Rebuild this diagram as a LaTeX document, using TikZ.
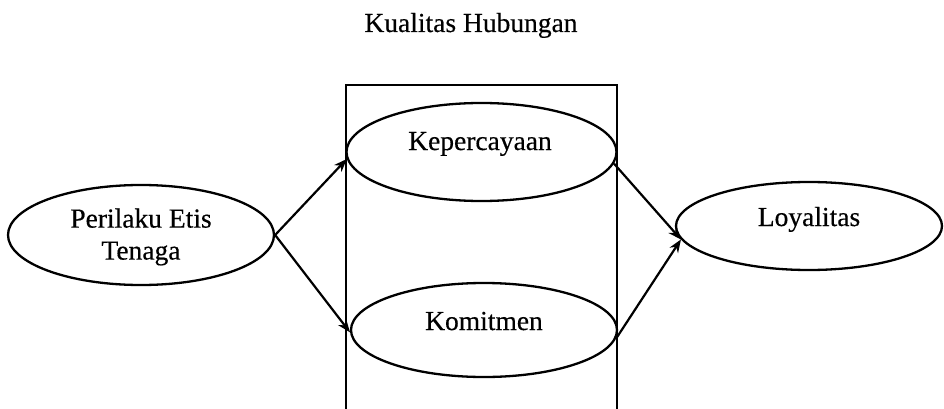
\documentclass[tikz,border=0pt]{standalone}
\usepackage{fontspec}
\setmainfont{Liberation Serif}
\usetikzlibrary{shapes.geometric,arrows.meta}
\begin{document}
\begin{tikzpicture}[x=1pt,y=-1pt,
  oval/.style={draw,ellipse,line width=2.3pt,inner sep=0pt},
  lbl/.style={font=\fontsize{27.5}{32}\selectfont\addfontfeatures{FakeBold=0.4},inner sep=0pt},
  conn/.style={line width=2.2pt,-{Stealth[length=13pt,width=10pt]}},
  frame/.style={line width=2.3pt}]
\useasboundingbox (0,0) rectangle (944,409);
\node[lbl,anchor=base] (title) at (471,32) {Kualitas Hubungan};
\draw[frame] (346,420) -- (346,85) -- (617,85) -- (617,420);
\node[oval,minimum width=266pt,minimum height=100pt] (pe) at (141,235) {};
\node[lbl,align=center] (pet) at (141,237) {Perilaku Etis\\Tenaga};
\node[oval,minimum width=270pt,minimum height=98pt] (kp) at (481.5,152) {};
\node[lbl,anchor=base] (kpt) at (480,150) {Kepercayaan};
\node[oval,minimum width=266pt,minimum height=94pt] (km) at (484,330) {};
\node[lbl,anchor=base] (kmt) at (484,330) {Komitmen};
\node[oval,minimum width=266pt,minimum height=88pt] (ly) at (809,226) {};
\node[lbl,anchor=base] (lyt) at (809,226) {Loyalitas};
\draw[conn] (pe.east) -- (kp.183.5);
\draw[conn] (pe.east) -- (km.181);
\draw[conn] (kp.-5) -- (ly.186);
\draw[conn] (km.-4) -- (ly.186);
\end{tikzpicture}
\end{document}
